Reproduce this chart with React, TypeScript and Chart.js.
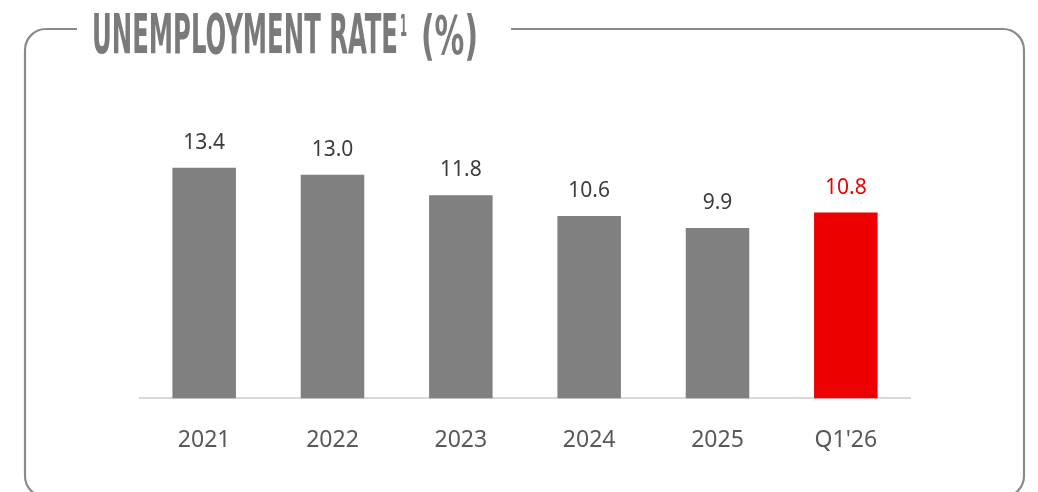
import React, { useEffect, useRef } from "react";
import { Chart, registerables } from "chart.js";

Chart.register(...registerables);

const categories = ["2021", "2022", "2023", "2024", "2025", "Q1'26"];
const rates = [13.4, 13.0, 11.8, 10.6, 9.9, 10.8];
const valueLabels = ["13.4", "13.0", "11.8", "10.6", "9.9", "10.8"];
const titleMain = "UNEMPLOYMENT RATE";
const titleSup = "1";
const titleTail = "(%)";

const GRAY = "#808080";
const RED = "#EC0000";

const framePlugin = {
  id: "frame",
  beforeDraw(chart: any) {
    const ctx = chart.ctx as CanvasRenderingContext2D;
    ctx.save();
    ctx.fillStyle = "#ffffff";
    ctx.fillRect(0, 0, chart.width, chart.height);
    // frame
    const L = 25, T = 29, R = 1024, B = 497, r = 21;
    ctx.strokeStyle = "#8a8a8a";
    ctx.lineWidth = 2.2;
    ctx.beginPath();
    ctx.moveTo(77, T);
    ctx.lineTo(L + r, T);
    ctx.arcTo(L, T, L, T + r, r);
    ctx.lineTo(L, B - r);
    ctx.arcTo(L, B, L + r, B, r);
    ctx.lineTo(R - r, B);
    ctx.arcTo(R, B, R, B - r, r);
    ctx.lineTo(R, T + r);
    ctx.arcTo(R, T, R - r, T, r);
    ctx.lineTo(511, T);
    ctx.stroke();

    // title
    ctx.fillStyle = "#7a7a7a";
    ctx.textBaseline = "alphabetic";
    ctx.textAlign = "left";
    const drawFit = (text: string, x: number, w: number, y: number, size: number, weight: string) => {
      ctx.font = `${weight} ${size}px "DejaVu Sans Condensed", "DejaVu Sans", sans-serif`;
      const m = ctx.measureText(text).width;
      ctx.save();
      ctx.translate(x, y);
      ctx.scale(w / m, 1);
      ctx.fillText(text, 0, 0);
      ctx.restore();
    };
    drawFit(titleMain, 92, 306, 53, 55, "bold");
    drawFit(titleSup, 400, 7, 36, 30, "bold");
    drawFit(titleTail, 421, 57, 54, 54, "bold");
    ctx.restore();
  },
  afterDatasetsDraw(chart: any) {
    const ctx = chart.ctx as CanvasRenderingContext2D;
    const meta = chart.getDatasetMeta(0);
    ctx.save();
    ctx.font = `400 21px "Noto Sans", sans-serif`;
    ctx.textAlign = "center";
    ctx.textBaseline = "alphabetic";
    meta.data.forEach((bar: any, i: number) => {
      ctx.fillStyle = i === rates.length - 1 ? RED : "#3c3c3c";
      ctx.fillText(valueLabels[i], bar.x, bar.y - 19);
    });
    ctx.restore();
  },
};

export default function App() {
  const ref = useRef<HTMLCanvasElement | null>(null);
  useEffect(() => {
    if (!ref.current) return;
    const chart = new Chart(ref.current, {
      type: "bar",
      data: {
        labels: categories,
        datasets: [
          {
            data: rates,
            backgroundColor: rates.map((_, i) => (i === rates.length - 1 ? RED : GRAY)),
            borderWidth: 0,
            barPercentage: 0.495,
            categoryPercentage: 1,
          },
        ],
      },
      options: {
        animation: false,
        responsive: false,
        devicePixelRatio: 1,
        layout: { padding: { left: 140, right: 128, top: 123, bottom: 10 } },
        plugins: { legend: { display: false }, tooltip: { enabled: false }, title: { display: false } },
        scales: {
          x: {
            grid: { display: false, drawTicks: false },
            border: { display: true, color: "#d9d9d9", width: 2 },
            ticks: {
              color: "#595959",
              font: { family: "'Noto Sans', sans-serif", size: 23 },
              padding: 28,
            },
          },
          y: {
            display: false,
            min: 0,
            max: 16,
          },
        },
      },
      plugins: [framePlugin],
    });
    return () => chart.destroy();
  }, []);
  return (
    <div style={{ position: "fixed", left: 0, top: 0, width: 1038, height: 492, background: "#fff" }}>
      <canvas ref={ref} width={1038} height={492} style={{ display: "block" }} />
    </div>
  );
}
